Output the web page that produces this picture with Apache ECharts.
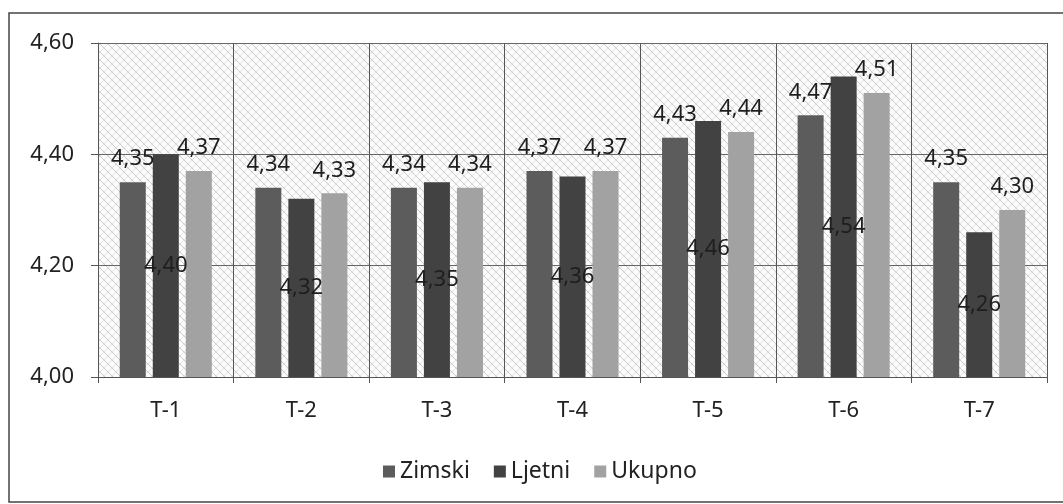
<!DOCTYPE html>
<html>
<head>
<meta charset="utf-8">
<script src="https://cdn.jsdelivr.net/npm/echarts@6/dist/echarts.min.js"></script>
<style>
html,body{margin:0;padding:0;background:#fff;}
#main{width:1063px;height:504px;}
</style>
</head>
<body>
<div id="main"></div>
<script>
var categories = ['T-1', 'T-2', 'T-3', 'T-4', 'T-5', 'T-6', 'T-7'];
var zimski = [4.35, 4.34, 4.34, 4.37, 4.43, 4.47, 4.35];
var ljetni = [4.40, 4.32, 4.35, 4.36, 4.46, 4.54, 4.26];
var ukupno = [4.37, 4.33, 4.34, 4.37, 4.44, 4.51, 4.30];
var yTicks = [4.00, 4.20, 4.40, 4.60];

// crosshatch fill like the scanned plot area
function makeHatch() {
    var c = document.createElement('canvas');
    c.width = 8; c.height = 8;
    var ctx = c.getContext('2d');
    ctx.fillStyle = '#fbfbfb';
    ctx.fillRect(0, 0, 8, 8);
    ctx.strokeStyle = '#cacaca';
    ctx.lineWidth = 1;
    ctx.beginPath();
    ctx.moveTo(0, 0); ctx.lineTo(8, 8);
    ctx.moveTo(-4, 4); ctx.lineTo(4, 12);
    ctx.moveTo(4, -4); ctx.lineTo(12, 4);
    ctx.stroke();
    ctx.strokeStyle = '#e4e4e4';
    ctx.beginPath();
    ctx.moveTo(8, 0); ctx.lineTo(0, 8);
    ctx.stroke();
    return c;
}

function fmt(v) {
    return v.toFixed(2).replace('.', ',');
}

var font = '"Noto Sans", sans-serif';
var chart = echarts.init(document.getElementById('main'));
var lbl = {
    show: true,
    fontSize: 22,
    fontFamily: font,
    color: '#1e1e1e',
    formatter: function (p) { return fmt(p.value); }
};

var option = {
    animation: false,
    backgroundColor: '#ffffff',
    color: ['#5c5c5c', '#424242', '#a2a2a2'],
    textStyle: {fontFamily: font},
    graphic: [{
        type: 'rect',
        shape: {x: 9, y: 13, width: 1060, height: 489},
        style: {fill: 'none', stroke: '#444', lineWidth: 1.5}
    }],
    grid: {
        left: 98,
        right: 16,
        top: 43,
        bottom: 127,
        show: true,
        borderWidth: 0,
        backgroundColor: {image: makeHatch(), repeat: 'repeat'}
    },
    legend: {
        left: 378,
        top: 455,
        itemWidth: 12,
        itemHeight: 12,
        itemGap: 24,
        icon: 'rect',
        textStyle: {fontSize: 23, color: '#222', fontFamily: font},
        data: ['Zimski', 'Ljetni', 'Ukupno']
    },
    xAxis: {
        type: 'category',
        data: categories,
        axisLine: {lineStyle: {color: '#555', width: 1}},
        axisTick: {show: true, length: 6, lineStyle: {color: '#555'}},
        axisLabel: {fontSize: 22, color: '#222', margin: 23},
        splitLine: {show: true, lineStyle: {color: '#555', width: 1}}
    },
    yAxis: {
        type: 'value',
        min: 4.0,
        max: 4.6,
        interval: 0.2,
        axisLine: {show: true, lineStyle: {color: '#555', width: 1}},
        axisTick: {show: true, length: 7, lineStyle: {color: '#555'}},
        axisLabel: {
            fontSize: 22,
            color: '#222',
            margin: 24,
            formatter: function (v) { return fmt(v); }
        },
        splitLine: {show: true, lineStyle: {color: '#666', width: 1}}
    },
    series: [
        {
            name: 'Zimski',
            type: 'bar',
            barWidth: 26,
            barGap: '27%',
            data: zimski,
            label: Object.assign({position: 'top', distance: 12}, lbl)
        },
        {
            name: 'Ljetni',
            type: 'bar',
            barWidth: 26,
            barGap: '27%',
            data: ljetni,
            label: Object.assign({position: 'inside'}, lbl)
        },
        {
            name: 'Ukupno',
            type: 'bar',
            barWidth: 26,
            barGap: '27%',
            data: ukupno,
            label: Object.assign({position: 'top', distance: 12}, lbl)
        }
    ]
};
chart.setOption(option);
</script>
</body>
</html>
